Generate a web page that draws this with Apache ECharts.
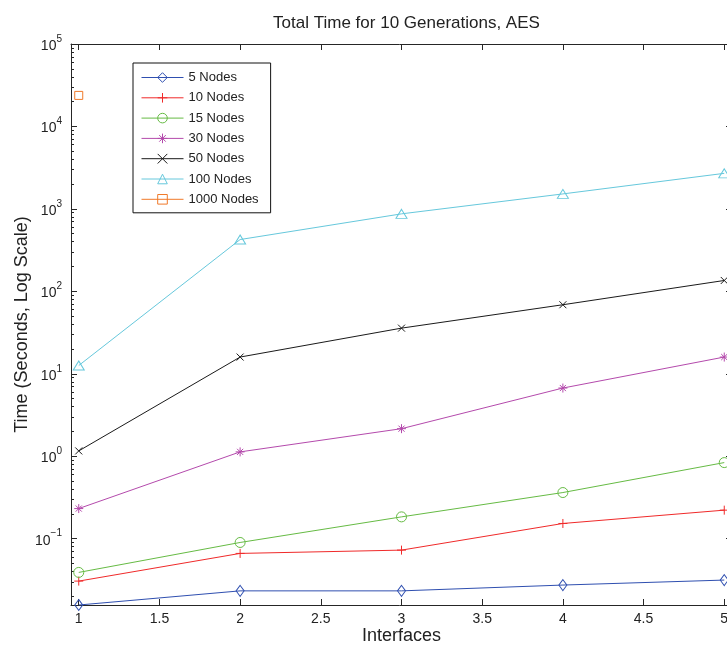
<!DOCTYPE html>
<html>
<head>
<meta charset="utf-8">
<script src="https://cdn.jsdelivr.net/npm/echarts@6/dist/echarts.min.js"></script>
<style>
html,body{margin:0;padding:0;background:#fff;}
#chart{width:727px;height:646px;}
</style>
</head>
<body>
<div id="chart"></div>
<script>
// ---- data ----
var interfaces = [1, 2, 3, 4, 5];
var nodes5    = [0.0157, 0.0233, 0.0233, 0.0274, 0.0315];
var nodes10   = [0.0306, 0.0663, 0.0727, 0.153, 0.222];
var nodes15   = [0.039, 0.090, 0.184, 0.363, 0.838];
var nodes30   = [0.232, 1.13, 2.16, 6.72, 15.96];
var nodes50   = [1.16, 15.96, 35.8, 68.8, 135.5];
var nodes100  = [12.6, 425, 871, 1520, 2700];
var nodes1000 = [23800];
var seriesNames = ['5 Nodes', '10 Nodes', '15 Nodes', '30 Nodes', '50 Nodes', '100 Nodes', '1000 Nodes'];
var xTicks = [1, 1.5, 2, 2.5, 3, 3.5, 4, 4.5, 5];
var yMajorTicks = [0.1, 1, 10, 100, 1000, 10000, 100000];
var yExponents = ['\u22121', '0', '1', '2', '3', '4', '5'];

// ---- helpers ----
function pairs(xs, ys) { return ys.map(function (v, i) { return [xs[i], v]; }); }
var yMinorTicks = [];
[0.01, 0.1, 1, 10, 100, 1000, 10000].forEach(function (d) {
  for (var k = 2; k <= 9; k++) {
    var v = +(d * k).toPrecision(6);
    if (v >= 0.0157 && v <= 100000) yMinorTicks.push(v);
  }
});

var colors = ['#2f4fb0', '#f02a2a', '#66bb44', '#b44aac', '#1a1a1a', '#66c8dc', '#f07a2a'];
var symbols = [
  'diamond',
  'path://M5,0L5,10M0,5L10,5',
  'circle',
  'path://M5,0L5,10M0,5L10,5M1.6,1.6L8.4,8.4M8.4,1.6L1.6,8.4',
  'path://M0,0L10,10M10,0L0,10',
  'triangle',
  'rect'
];
var sizes = [[8, 11], 9, 10, 9, 7, [11, 9], 8];
var dataSets = [nodes5, nodes10, nodes15, nodes30, nodes50, nodes100, nodes1000];

var series = dataSets.map(function (d, i) {
  return {
    name: seriesNames[i],
    type: 'line',
    xAxisIndex: 0,
    yAxisIndex: 0,
    data: pairs(interfaces, d),
    symbol: symbols[i],
    symbolSize: sizes[i],
    showSymbol: true,
    showAllSymbol: true,
    clip: false,
    lineStyle: { color: colors[i], width: 1 },
    itemStyle: { color: 'rgba(255,255,255,0)', borderColor: colors[i], borderWidth: 1 },
    emphasis: { disabled: true },
    animation: false,
    z: 3
  };
});

var axisColor = '#262626';
var gridCfg = { left: 71, top: 44, width: 661, height: 561, outerBoundsMode: 'none', containLabel: false };
var xMin = 0.952, xMax = 5.048, yMin = 0.0157, yMax = 100000;

var chart = echarts.init(document.getElementById('chart'), null, { renderer: 'canvas' });
chart.setOption({
  animation: false,
  backgroundColor: '#fff',
  title: {
    text: 'Total Time for 10 Generations, AES',
    left: 401.5, top: 10, textAlign: 'center',
    textStyle: { fontFamily: 'Liberation Sans', fontSize: 17, fontWeight: 'normal', color: '#222' }
  },
  legend: {
    orient: 'vertical',
    left: 133, top: 63,
    padding: [8, 12, 7, 8],
    itemWidth: 42, itemHeight: 12, itemGap: 7.3,
    borderColor: '#111', borderWidth: 1,
    backgroundColor: '#fff',
    data: seriesNames,
    lineStyle: { width: 1 },
    itemStyle: { borderWidth: 1 },
    textStyle: { fontFamily: 'Liberation Sans', fontSize: 13, color: '#222' },
    selectedMode: false
  },
  grid: gridCfg,
  xAxis: [{
    type: 'value', min: xMin, max: xMax, position: 'bottom',
    name: 'Interfaces', nameLocation: 'middle', nameGap: 22, nameMoveOverlap: false,
    nameTextStyle: { fontFamily: 'Liberation Sans', fontSize: 18, color: '#222' },
    axisLine: { show: true, onZero: false, lineStyle: { color: axisColor, width: 1 } },
    axisTick: { show: true, inside: true, length: 6, customValues: xTicks, lineStyle: { color: axisColor } },
    axisLabel: { customValues: xTicks, margin: 7, fontFamily: 'Liberation Sans', fontSize: 14, color: '#222' },
    splitLine: { show: false }
  }, {
    type: 'value', min: xMin, max: xMax, position: 'top', gridIndex: 0,
    axisLine: { show: true, onZero: false, lineStyle: { color: axisColor, width: 1 } },
    axisTick: { show: true, inside: true, length: 6, customValues: xTicks, lineStyle: { color: axisColor } },
    axisLabel: { show: false },
    splitLine: { show: false }
  }],
  yAxis: [{
    type: 'log', logBase: 10, min: yMin, max: yMax, position: 'left',
    name: 'Time (Seconds, Log Scale)', nameLocation: 'middle', nameGap: 40, nameMoveOverlap: false,
    nameTextStyle: { fontFamily: 'Liberation Sans', fontSize: 18, color: '#222' },
    axisLine: { show: true, onZero: false, lineStyle: { color: axisColor, width: 1 } },
    axisTick: { show: true, inside: true, length: 6, customValues: yMajorTicks, lineStyle: { color: axisColor } },
    axisLabel: {
      customValues: yMajorTicks, margin: 9,
      formatter: function (v) {
        var idx = yMajorTicks.findIndex(function (t) { return Math.abs(t - v) / t < 1e-6; });
        return '{b|10}{e|' + (idx >= 0 ? yExponents[idx] : '') + '}';
      },
      rich: {
        b: { fontFamily: 'Liberation Sans', fontSize: 14, color: '#222', padding: [4, 0, 0, 0] },
        e: { fontFamily: 'Liberation Sans', fontSize: 10, color: '#222', padding: [0, 0, 10, 0] }
      }
    },
    splitLine: { show: false }
  }, {
    type: 'log', logBase: 10, min: yMin, max: yMax, position: 'left', gridIndex: 0,
    axisLine: { show: false },
    axisTick: { show: true, inside: true, length: 3, customValues: yMinorTicks, lineStyle: { color: axisColor } },
    axisLabel: { show: false },
    splitLine: { show: false }
  }, {
    type: 'log', logBase: 10, min: yMin, max: yMax, position: 'right', gridIndex: 0,
    axisLine: { show: true, onZero: false, lineStyle: { color: axisColor, width: 1 } },
    axisTick: { show: true, inside: true, length: 6, customValues: yMajorTicks, lineStyle: { color: axisColor } },
    axisLabel: { show: false },
    splitLine: { show: false }
  }],
  series: series
});
</script>
</body>
</html>
